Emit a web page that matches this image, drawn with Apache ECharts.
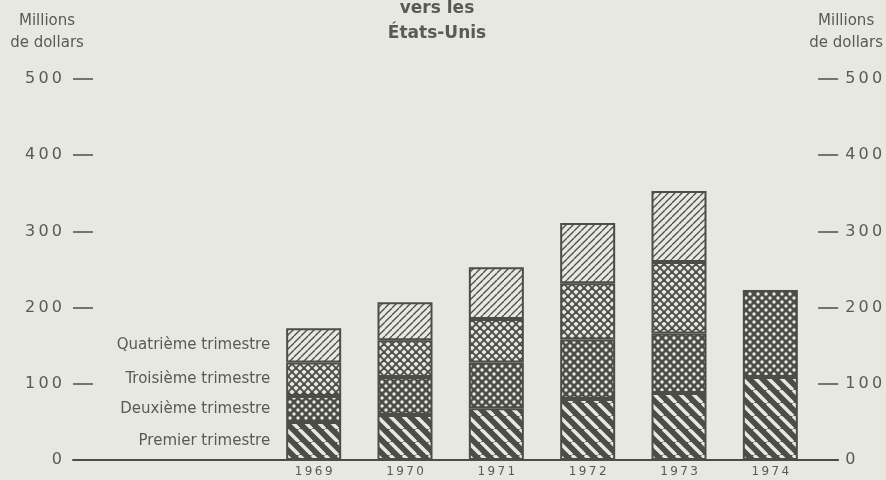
<!DOCTYPE html>
<html>
<head>
<meta charset="utf-8">
<script src="https://cdn.jsdelivr.net/npm/echarts@6/dist/echarts.min.js"></script>
<style>
html, body { margin: 0; background: #e7e8df; }
#boot { width: 886px; height: 480px; }
</style>
</head>
<body>
<div id="boot"></div>
<script>
// valeurs (millions de dollars)
var years = ['1969', '1970', '1971', '1972', '1973', '1974'];
var premier = [50, 59, 68, 80, 88, 109];
var deuxieme = [34, 50, 60, 78, 78, 114];
var troisieme = [44, 48, 57, 74, 94, null];
var quatrieme = [45, 50, 68, 79, 93, null];
var yTicks = [0, 100, 200, 300, 400, 500];

var ink = '#4d4d48';
var paper = '#e7e8df';
var textColor = '#5a5a54';
var font = 'DejaVu Sans';

function diag(g, s, down) {
    for (var k = -1; k <= 1; k++) {
        g.beginPath();
        if (down) {
            g.moveTo(k * s, 0); g.lineTo(k * s + s, s);
        } else {
            g.moveTo(k * s, s); g.lineTo(k * s + s, 0);
        }
        g.stroke();
    }
}

// motifs de hachures
function makePattern(kind) {
    var c = document.createElement('canvas');
    var s = { bande: 13, points: 8, losange: 8, fines: 7 }[kind];
    c.width = s; c.height = s;
    var g = c.getContext('2d');
    g.fillStyle = (kind === 'bande' || kind === 'points') ? ink : paper;
    g.fillRect(0, 0, s, s);
    if (kind === 'bande') {
        g.strokeStyle = paper; g.lineWidth = 3.5;
        diag(g, s, true);
    } else if (kind === 'fines') {
        g.strokeStyle = ink; g.lineWidth = 1.3;
        diag(g, s, false);
    } else if (kind === 'losange') {
        g.strokeStyle = ink; g.lineWidth = 1.9;
        diag(g, s, true);
        diag(g, s, false);
    } else {
        g.fillStyle = paper;
        [[s / 4, s / 4], [3 * s / 4, 3 * s / 4]].forEach(function (p) {
            g.beginPath(); g.arc(p[0], p[1], 1.7, 0, Math.PI * 2); g.fill();
        });
    }
    return { image: c, repeat: 'repeat' };
}

function withLabel(arr) {
    return arr.map(function (v, i) {
        return i === 0 ? { value: v, label: { show: true } } : v;
    });
}

function spaced(v) {
    return String(v).split('').join('\u2009');
}

var myChart = echarts.init(document.getElementById('boot'));

var seriesDefs = [
    ['Premier trimestre', premier, 'bande'],
    ['Deuxième trimestre', deuxieme, 'points'],
    ['Troisième trimestre', troisieme, 'losange'],
    ['Quatrième trimestre', quatrieme, 'fines']
];

var option = {
    backgroundColor: paper,
    animation: false,
    title: {
        text: 'vers les\nÉtats-Unis',
        left: 432,
        textAlign: 'center',
        top: -9,
        textStyle: { fontFamily: font, fontSize: 17, fontWeight: 'bold', color: textColor, lineHeight: 25 }
    },
    grid: [
        { left: 73, right: 43, top: 79, bottom: 20 },
        { left: 268, right: 70, top: 79, bottom: 20 }
    ],
    xAxis: [{
        gridIndex: 0,
        type: 'value',
        min: 0,
        max: 1,
        axisLine: { show: true, lineStyle: { color: ink, width: 2 } },
        axisTick: { show: false },
        axisLabel: { show: false },
        splitLine: { show: false }
    }, {
        gridIndex: 1,
        type: 'category',
        data: years,
        axisLine: { show: false },
        axisTick: { show: false },
        axisLabel: {
            margin: 6,
            fontFamily: font,
            fontSize: 12,
            color: textColor,
            formatter: spaced
        }
    }],
    yAxis: [{
        gridIndex: 0,
        type: 'value',
        position: 'left',
        min: yTicks[0],
        max: yTicks[yTicks.length - 1],
        interval: 100,
        name: 'Millions\nde dollars',
        nameLocation: 'end',
        nameGap: 25,
        nameTextStyle: { fontFamily: font, fontSize: 15, color: textColor, lineHeight: 22, align: 'center', padding: [0, 52, 0, 0] },
        axisLine: { show: false },
        axisTick: { show: true, inside: true, length: 20, lineStyle: { color: ink, width: 1.5 } },
        axisLabel: { margin: 11, fontFamily: font, fontSize: 16, color: textColor, formatter: spaced },
        splitLine: { show: false }
    }, {
        gridIndex: 0,
        type: 'value',
        position: 'right',
        min: yTicks[0],
        max: yTicks[yTicks.length - 1],
        interval: 100,
        name: 'Millions\nde dollars',
        nameLocation: 'end',
        nameGap: 25,
        nameTextStyle: { fontFamily: font, fontSize: 15, color: textColor, lineHeight: 22, align: 'center', padding: [0, 0, 0, 16] },
        axisLine: { show: false },
        axisTick: { show: true, inside: true, length: 20, lineStyle: { color: ink, width: 1.5 } },
        axisLabel: { margin: 7, fontFamily: font, fontSize: 16, color: textColor, formatter: spaced },
        splitLine: { show: false }
    }, {
        gridIndex: 1,
        type: 'value',
        min: yTicks[0],
        max: yTicks[yTicks.length - 1],
        show: false
    }],
    series: seriesDefs.map(function (d) {
        return {
            name: d[0],
            type: 'bar',
            stack: 'total',
            xAxisIndex: 1,
            yAxisIndex: 2,
            barWidth: 55,
            data: withLabel(d[1]),
            itemStyle: { color: makePattern(d[2]), borderColor: ink, borderWidth: 2 },
            label: {
                show: false,
                position: 'left',
                distance: 16,
                formatter: d[0],
                fontFamily: font,
                fontSize: 15,
                color: textColor
            }
        };
    })
};

myChart.setOption(option);
</script>
</body>
</html>
